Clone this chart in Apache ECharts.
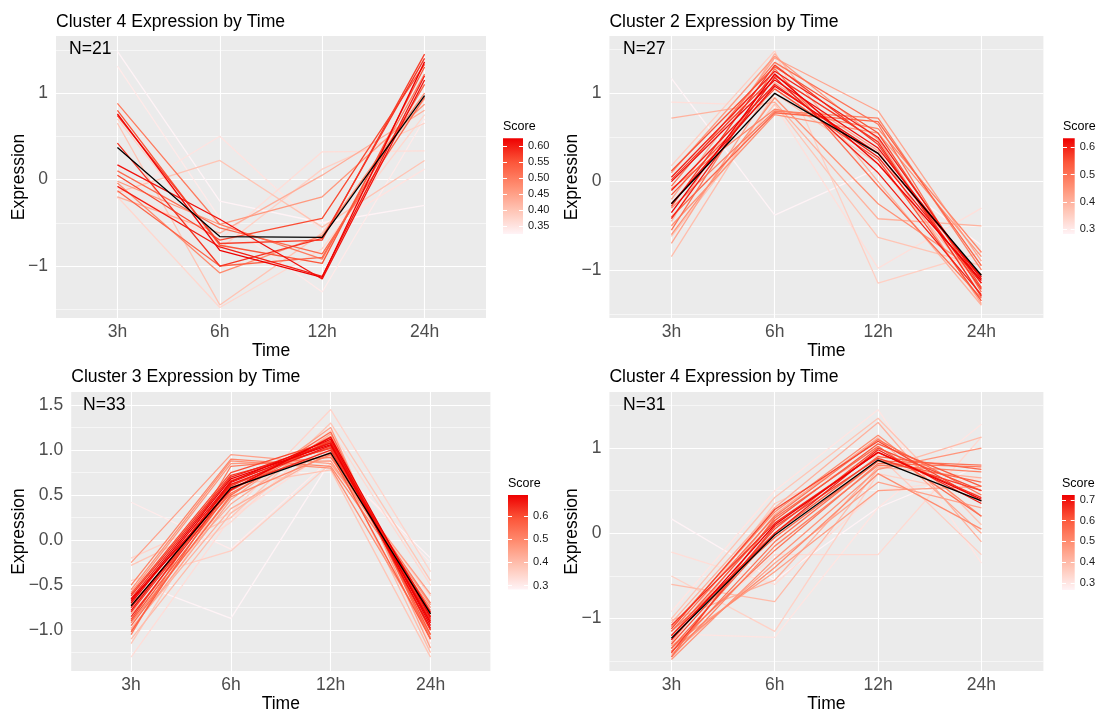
<!DOCTYPE html>
<html><head><meta charset="utf-8">
<script src="https://cdn.jsdelivr.net/npm/echarts@6/dist/echarts.min.js"></script>
<style>html,body{margin:0;padding:0;background:#fff}#c{width:1098px;height:714px}</style>
</head><body><div id="c"></div><script>
// ---------- DATA ----------
const timeLabels = ['3h', '6h', '12h', '24h'];
const panelTitles = ['Cluster 4 Expression by Time', 'Cluster 2 Expression by Time',
                     'Cluster 3 Expression by Time', 'Cluster 4 Expression by Time'];

// Panel 1 (top-left) : expression at 3h,6h,12h,24h per gene
const c1Expr = [
  [1.48,-0.25,-0.50,-0.30],[1.31,-0.45,-1.30,0.70],[0.88,-0.52,-0.92,1.22],[0.80,-0.76,-0.97,1.30],
  [0.76,-0.82,-1.13,1.36],[0.74,-0.74,-0.70,1.45],[0.65,-1.45,-0.62,0.93],[0.42,-1.00,-0.68,1.40],
  [0.17,-0.46,-1.15,1.15],[0.10,-0.56,-0.86,0.95],[0.05,-0.70,-0.45,1.33],[-0.02,-0.52,-0.20,0.87],
  [-0.04,-1.08,-0.65,1.00],[-0.08,-0.78,-1.12,1.20],[-0.15,0.22,-0.55,0.22],[-0.20,-0.62,0.05,0.80],
  [-0.22,0.50,-0.60,0.12],[-0.20,-1.48,-0.80,0.75],[-0.13,-1.00,-0.90,1.10],[-0.10,-0.70,0.32,0.33],
  [0.70,-0.80,0.12,0.65]
];
const c1Score = [0.325,0.34,0.50,0.55,0.625,0.57,0.40,0.58,0.61,0.52,0.56,0.46,0.48,0.60,0.40,0.43,0.35,0.37,0.53,0.36,0.38];
const c1Mean = [0.37,-0.66,-0.67,0.97];

// Panel 2 (top-right)
const c2Expr = [
  [1.17,-0.38,0.15,-0.72],[0.90,0.86,-0.98,-0.30],[0.72,0.90,-0.42,-0.50],[0.18,1.48,-1.15,-0.80],
  [0.12,1.30,0.55,-1.20],[0.05,1.25,0.50,-1.15],[0.02,1.20,0.45,-1.30],[0.00,1.15,0.38,-1.10],
  [-0.05,1.35,0.65,-1.25],[-0.10,1.10,0.28,-1.15],[-0.15,1.05,0.25,-1.35],[-0.20,1.40,0.80,-0.90],
  [-0.30,0.80,0.72,-1.00],[-0.35,1.22,0.20,-1.12],[-0.40,0.78,0.68,-0.95],[-0.42,1.18,0.10,-1.28],
  [-0.45,1.45,0.00,-1.40],[-0.50,0.76,0.55,-0.85],[-0.55,1.28,-0.05,-1.32],[-0.60,0.95,-0.25,-1.05],
  [-0.70,1.12,0.35,-1.38],[-0.85,1.00,0.20,-1.20],[-0.25,1.08,0.32,-1.08],[-0.08,0.82,0.60,-0.80],
  [-0.28,1.32,0.42,-1.22],[0.10,1.42,0.48,-1.30],[-0.62,0.88,-0.63,-0.95]
];
const c2Score = [0.283,0.32,0.40,0.35,0.55,0.60,0.58,0.62,0.50,0.60,0.55,0.42,0.48,0.633,0.52,0.60,0.40,0.45,0.50,0.45,0.42,0.38,0.62,0.47,0.57,0.44,0.37];
const c2Mean = [-0.25,1.00,0.32,-1.06];

// Panel 3 (bottom-left)
const c3Expr = [
  [0.42,-0.10,0.90,-0.25],[-0.45,-0.87,0.88,-0.20],[-0.20,0.30,1.45,-0.35],[-0.25,0.95,0.85,-0.60],
  [-0.28,0.25,1.30,-0.45],[-0.50,0.90,0.82,-0.75],[-0.55,0.88,0.80,-1.05],[-0.60,0.75,1.10,-0.85],
  [-0.65,0.70,1.08,-0.90],[-0.70,0.65,1.12,-0.95],[-0.75,0.62,1.05,-0.80],[-0.80,0.60,1.10,-1.00],
  [-0.85,0.58,1.00,-0.88],[-0.90,0.55,1.15,-1.05],[-0.95,0.50,1.20,-1.10],[-1.00,0.45,1.25,-1.20],
  [-1.05,0.82,0.92,-0.70],[-1.10,0.30,1.05,-1.25],[-1.15,0.60,0.78,-1.30],[-1.30,0.25,1.00,-1.15],
  [-0.45,-0.12,0.85,-0.62],[-0.62,0.72,1.02,-0.85],[-0.68,0.68,1.06,-0.92],[-0.78,0.64,1.08,-0.98],
  [-0.88,0.66,1.03,-0.82],[-0.72,0.52,1.12,-1.00],[-0.92,0.48,0.95,-0.78],[-0.58,0.85,0.88,-0.72],
  [-0.82,0.40,1.18,-1.08],[-0.98,0.35,0.98,-0.90],[-0.55,0.20,1.22,-0.50],[-1.02,0.62,0.96,-1.10],
  [-0.66,0.56,1.14,-0.86]
];
const c3Score = [0.30,0.283,0.35,0.45,0.38,0.50,0.48,0.60,0.65,0.68,0.66,0.62,0.64,0.58,0.55,0.45,0.52,0.40,0.38,0.33,0.36,0.62,0.69,0.67,0.60,0.55,0.50,0.47,0.43,0.42,0.34,0.57,0.69];
const c3Mean = [-0.73,0.58,0.97,-0.82];

// Panel 4 (bottom-right)
const c4Expr = [
  [0.17,-0.55,0.30,0.80],[-0.22,-0.60,0.50,0.65],[-0.50,-1.15,0.70,0.45],[-0.60,-0.80,0.75,1.13],
  [-0.92,0.50,1.45,-0.35],[-1.00,0.42,1.35,0.10],[-1.05,0.30,1.30,-0.10],[-1.10,0.25,1.15,0.20],
  [-1.15,0.20,1.10,0.45],[-1.20,0.15,1.05,0.55],[-1.25,0.10,0.95,0.40],[-1.30,0.05,1.00,0.50],
  [-1.35,0.00,0.90,0.75],[-1.40,-0.10,0.85,0.80],[-1.45,-0.15,0.80,0.72],[-1.48,-0.30,0.75,1.00],
  [-1.42,-0.35,0.60,0.30],[-1.38,-0.40,0.70,0.05],[-1.32,-0.45,0.50,0.55],[-1.28,0.22,1.12,0.00],
  [-1.18,-1.22,0.30,1.28],[-1.12,0.28,1.08,0.38],[-1.08,0.12,0.95,0.42],[-1.02,-0.55,0.78,0.65],
  [-1.45,0.18,1.02,0.20],[-1.40,0.08,0.88,0.50],[-1.35,-0.20,0.82,0.78],[-1.30,-0.25,-0.25,1.13],
  [-1.25,0.35,0.92,-0.25],[-1.15,-0.05,0.85,0.60],[-1.20,0.00,0.98,0.35]
];
const c4Score = [0.266,0.32,0.35,0.40,0.30,0.38,0.42,0.50,0.55,0.60,0.724,0.62,0.58,0.55,0.52,0.48,0.45,0.50,0.46,0.44,0.30,0.63,0.66,0.42,0.56,0.64,0.54,0.33,0.36,0.57,0.68];
const c4Mean = [-1.23,-0.02,0.86,0.38];

// Tick labels
const yMajorInt = [-1, 0, 1];
const yMinorInt = [-1.5, -0.5, 0.5, 1.5];
const yMajorHalf = [-1.0, -0.5, 0.0, 0.5, 1.0, 1.5];
const yMinorHalf = [-1.25, -0.75, -0.25, 0.25, 0.75, 1.25];
const scoreTicks1 = [0.35, 0.40, 0.45, 0.50, 0.55, 0.60];
const scoreTicks2 = [0.3, 0.4, 0.5, 0.6];
const scoreTicks3 = [0.3, 0.4, 0.5, 0.6];
const scoreTicks4 = [0.3, 0.4, 0.5, 0.6, 0.7];

// ---------- LAYOUT / STYLE ----------
const FF = '"Liberation Sans", Arial, Helvetica, sans-serif';
const layouts = [
  {grid:{left:56,top:36,width:430,height:282}, yMin:-1.601, yMax:1.659, dec:0, titleTop:13, nTop:40, nLeft:69, nameGap:28,
   leg:{left:503,top:138.3,width:20,height:95.7}, legDec:2},
  {grid:{left:609.4,top:36,width:434,height:282}, yMin:-1.544, yMax:1.649, dec:0, titleTop:13, nTop:40, nLeft:623, nameGap:28,
   leg:{left:1063,top:138.3,width:20,height:95.7}, legDec:1},
  {grid:{left:71.2,top:392,width:419.2,height:282}, yMin:-1.454, yMax:1.645, dec:1, titleTop:368, nTop:396, nLeft:83, nameGap:43,
   leg:{left:508,top:495,width:20,height:94.5}, legDec:1},
  {grid:{left:609.4,top:392,width:434,height:282}, yMin:-1.615, yMax:1.658, dec:0, titleTop:368, nTop:396, nLeft:623, nameGap:28,
   leg:{left:1062,top:495,width:20,height:95}, legDec:1}
];
const panels = [
  {expr:c1Expr, score:c1Score, mean:c1Mean, major:yMajorInt, minor:yMinorInt, legTicks:scoreTicks1},
  {expr:c2Expr, score:c2Score, mean:c2Mean, major:yMajorInt, minor:yMinorInt, legTicks:scoreTicks2},
  {expr:c3Expr, score:c3Score, mean:c3Mean, major:yMajorHalf, minor:yMinorHalf, legTicks:scoreTicks3},
  {expr:c4Expr, score:c4Score, mean:c4Mean, major:yMajorInt, minor:yMinorInt, legTicks:scoreTicks4}
];

const rampStops = [[0,[255,243,246]],[0.25,[255,196,180]],[0.5,[255,142,114]],[0.75,[252,86,58]],[1,[238,0,0]]];
function ramp(t){
  t = Math.max(0, Math.min(1, t));
  for (let i = 1; i < rampStops.length; i++) {
    if (t <= rampStops[i][0] + 1e-9) {
      const [t0,c0] = rampStops[i-1], [t1,c1] = rampStops[i];
      const f = (t - t0) / (t1 - t0);
      return 'rgb(' + c0.map((c,k)=>Math.round(c + (c1[k]-c)*f)).join(',') + ')';
    }
  }
  return 'rgb(238,0,0)';
}
const fmtMinus = s => s.replace('-', '\u2212');

const option = {animation:false, backgroundColor:'#ffffff', title:[], grid:[], xAxis:[], yAxis:[], series:[]};

panels.forEach((p, pi) => {
  const L = layouts[pi];
  option.title.push({text:panelTitles[pi], left:L.grid.left, top:L.titleTop, padding:0,
    textStyle:{fontSize:17.6, fontWeight:'normal', color:'#000', fontFamily:FF}});
  option.title.push({text:'N=' + p.expr.length, left:L.nLeft, top:L.nTop, padding:0,
    textStyle:{fontSize:17.6, fontWeight:'normal', color:'#000', fontFamily:FF}});

  const g = option.grid.length;
  option.grid.push(Object.assign({show:true, backgroundColor:'#EBEBEB', borderWidth:0}, L.grid));
  const xi = option.xAxis.length;
  option.xAxis.push({type:'value', gridIndex:g, min:-0.6, max:3.6,
    axisLine:{show:false}, splitLine:{show:false},
    axisTick:{show:true, customValues:[0,1,2,3], length:4, lineStyle:{color:'#333', width:1}},
    axisLabel:{customValues:[0,1,2,3], formatter:v=>timeLabels[Math.round(v)], color:'#4D4D4D', fontSize:17.5, margin:5, fontFamily:FF},
    name:'Time', nameLocation:'middle', nameGap:24, nameMoveOverlap:false,
    nameTextStyle:{color:'#000', fontSize:17.5, fontFamily:FF}});
  const yi = option.yAxis.length;
  option.yAxis.push({type:'value', gridIndex:g, min:L.yMin, max:L.yMax,
    axisLine:{show:false}, splitLine:{show:false},
    axisTick:{show:true, customValues:p.major, length:4, lineStyle:{color:'#333', width:1}},
    axisLabel:{customValues:p.major, formatter:v=>fmtMinus(v.toFixed(L.dec)), color:'#4D4D4D', fontSize:17.5, margin:8, fontFamily:FF},
    name:'Expression', nameLocation:'middle', nameGap:L.nameGap, nameMoveOverlap:false,
    nameTextStyle:{color:'#000', fontSize:17.5, fontFamily:FF}});

  const mk = [];
  p.minor.forEach(v => mk.push({yAxis:v, lineStyle:{color:'#fff', width:0.55, type:'solid'}}));
  p.major.forEach(v => mk.push({yAxis:v, lineStyle:{color:'#fff', width:1.1, type:'solid'}}));
  timeLabels.forEach((t,i) => mk.push({xAxis:i, lineStyle:{color:'#fff', width:1.1, type:'solid'}}));
  option.series.push({type:'line', xAxisIndex:xi, yAxisIndex:yi, z:1, silent:true, symbol:'none',
    data:p.mean.map((v,i)=>[i,v]), lineStyle:{opacity:0},
    markLine:{silent:true, z:1, symbol:['none','none'], label:{show:false}, emphasis:{disabled:true}, animation:false, data:mk}});

  const sMin = Math.min(...p.score), sMax = Math.max(...p.score);
  const order = p.expr.map((_,i)=>i).sort((a,b)=>p.score[a]-p.score[b]);
  order.forEach(i => {
    option.series.push({type:'line', xAxisIndex:xi, yAxisIndex:yi, z:2, silent:true, symbol:'none',
      data:p.expr[i].map((v,k)=>[k,v]),
      lineStyle:{color:ramp((p.score[i]-sMin)/(sMax-sMin)), width:1.3}});
  });
  option.series.push({type:'line', xAxisIndex:xi, yAxisIndex:yi, z:3, silent:true, symbol:'none',
    data:p.mean.map((v,k)=>[k,v]), lineStyle:{color:'#000', width:1.3}});

  const lg = option.grid.length;
  option.grid.push(Object.assign({show:false}, L.leg));
  const lxi = option.xAxis.length;
  option.xAxis.push({type:'category', gridIndex:lg, data:['Score'], show:false, boundaryGap:true});
  const lyi = option.yAxis.length;
  const tickStyle = {show:true, inside:true, length:4, customValues:p.legTicks, lineStyle:{color:'#fff', width:1}};
  option.yAxis.push({type:'value', gridIndex:lg, position:'left', min:sMin, max:sMax, z:10,
    axisLine:{show:false}, splitLine:{show:false}, axisLabel:{show:false}, axisTick:tickStyle,
    name:'Score', nameLocation:'end', nameGap:5,
    nameTextStyle:{align:'left', verticalAlign:'bottom', fontSize:12.5, color:'#000', fontFamily:FF}});
  option.yAxis.push({type:'value', gridIndex:lg, position:'right', min:sMin, max:sMax, z:10,
    axisLine:{show:false}, splitLine:{show:false}, axisTick:tickStyle,
    axisLabel:{customValues:p.legTicks, formatter:v=>v.toFixed(L.legDec), fontSize:11, color:'#1a1a1a', margin:5, fontFamily:FF}});
  const stops = [];
  for (let k = 0; k <= 20; k++) stops.push({offset:k/20, color:ramp(1 - k/20)});
  option.series.push({type:'bar', xAxisIndex:lxi, yAxisIndex:lyi, stack:'leg'+pi, barWidth:'100%', silent:true,
    data:[sMin], itemStyle:{color:'rgba(0,0,0,0)'}});
  option.series.push({type:'bar', xAxisIndex:lxi, yAxisIndex:lyi, stack:'leg'+pi, barWidth:'100%', silent:true,
    data:[sMax - sMin], itemStyle:{color:{type:'linear', x:0, y:0, x2:0, y2:1, colorStops:stops}}});
});

const chart = echarts.init(document.getElementById('c'), null, {renderer:'canvas'});
chart.setOption(option);
</script></body></html>
